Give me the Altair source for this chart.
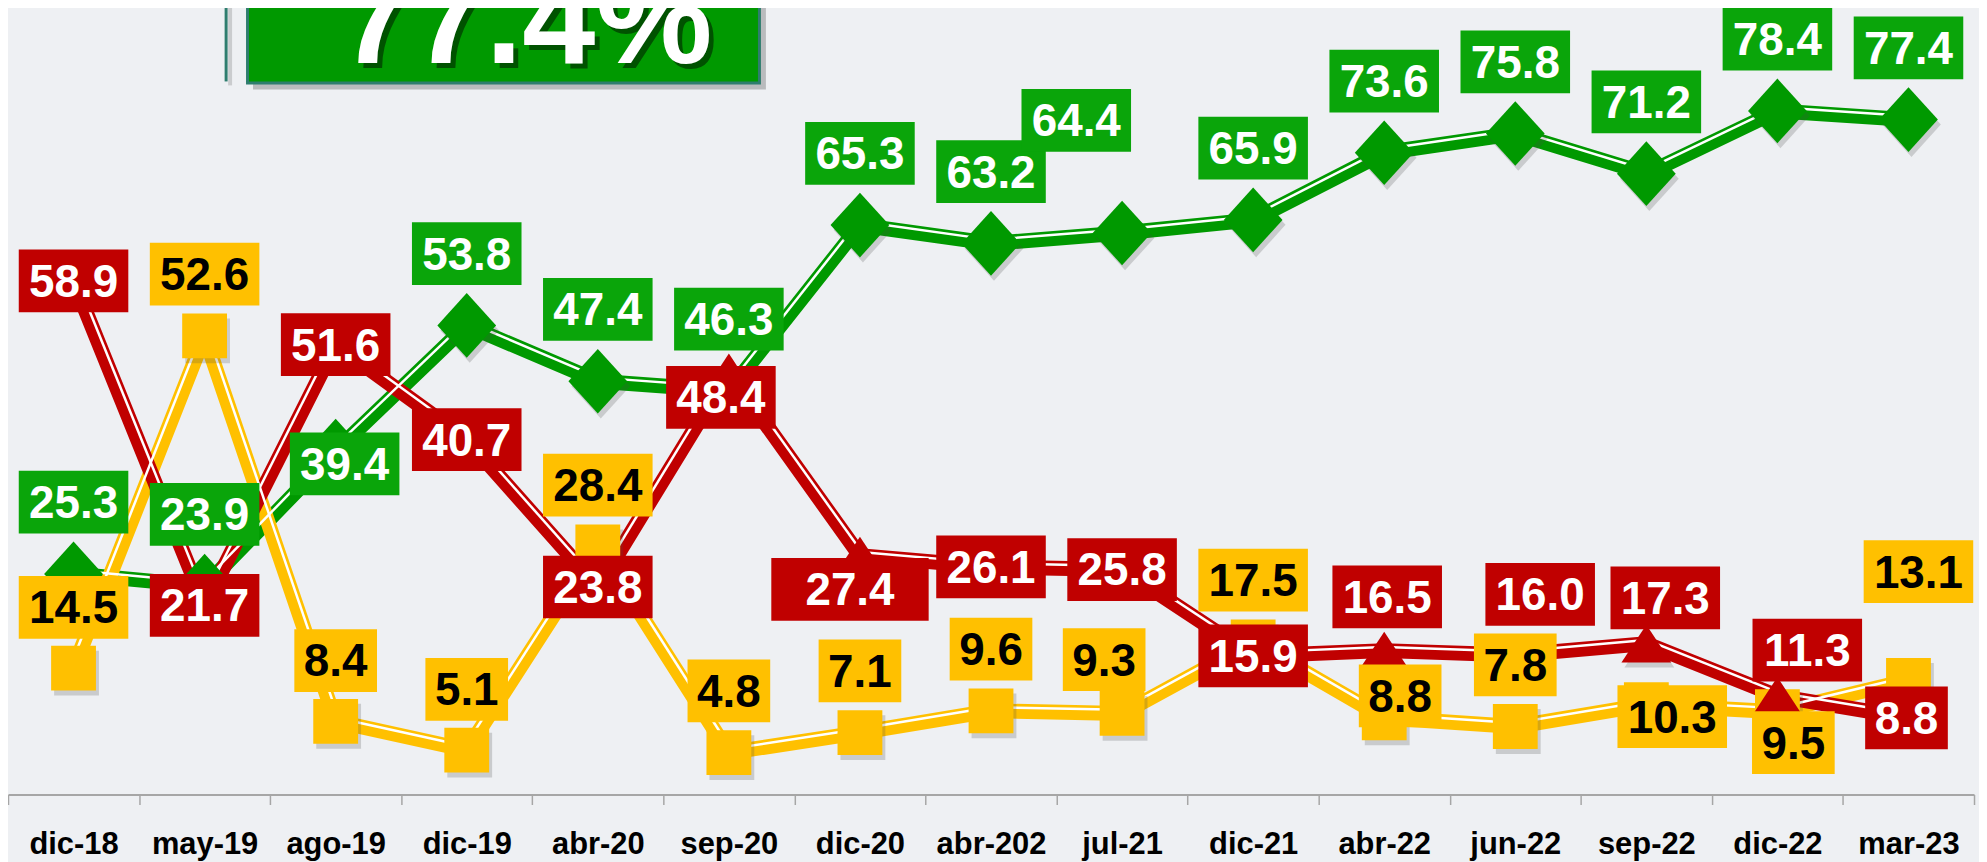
import math
import altair as alt
import pandas as pd

# ---------------- data ----------------
categories = ["dic-18", "may-19", "ago-19", "dic-19", "abr-20", "sep-20", "dic-20",
              "abr-202", "jul-21", "dic-21", "abr-22", "jun-22", "sep-22", "dic-22", "mar-23"]
green_vals = [25.3, 23.9, 39.4, 53.8, 47.4, 46.3, 65.3, 63.2, 64.4, 65.9, 73.6, 75.8, 71.2, 78.4, 77.4]
red_vals = [58.9, 21.7, 51.6, 40.7, 23.8, 48.4, 27.4, 26.1, 25.8, 15.9, 16.5, 16.0, 17.3, 11.3, 8.8]
yellow_vals = [14.5, 52.6, 8.4, 5.1, 28.4, 4.8, 7.1, 9.6, 9.3, 17.5, 8.8, 7.8, 10.3, 9.5, 13.1]
headline = "77.4%"

# ---------------- label placement (pixels, relative to the marker) ----------------
green_dx = [0, 0, 9, 0, 0, 0, 0, 0, -46, 0, 0, 0, 0, 0, 0]
green_dy = [-72, -72, 13, -72, -72, -72, -72, -72, -113, -72, -72, -72, -72, -72, -72]
red_dx = [0, 0, 0, 0, 0, -8, -10, 0, 0, 0, 3, 25, 19, 30, -2]
red_dy = [0, 0, 0, 0, 0, 25, 34, 0, 0, 0, -54, -61, -46, -46, 0]
yellow_dx = [0, 0, 0, 0, 0, 0, 0, 0, -18, 0, 16, 0, 26, 16, 10]
yellow_dy = [-61, -62, -61, -61, -62, -62, -62, -62, -54, -62, -22, -62, 12, 31, -109]
wide_boxes = {("rojo", 6): 158}

# ---------------- layout / style ----------------
N = len(categories)
W, H = 1974, 788
Y_MAX = 90
PX_X = W / N
PX_Y = H / Y_MAX
BOX_H = 63
LINE_W = 15
WHITE_W = 2.5
WHITE_OFF = 3.6
FONT = "Liberation Sans, Arial, sans-serif"

DIAMOND = "M0,-1.1L1,0L0,1.1L-1,0Z"
TRIANGLE = "M0,-0.76L1,0.76L-1,0.76Z"

series = [
    dict(name="verde", vals=green_vals, line="#009900", box="#0AA50A", txt="#FFFFFF",
         shape=DIAMOND, size=59 * 59, dx=green_dx, dy=green_dy),
    dict(name="amarillo", vals=yellow_vals, line="#FFC000", box="#FFC000", txt="#000000",
         shape="square", size=45 * 45, dx=yellow_dx, dy=yellow_dy),
    dict(name="rojo", vals=red_vals, line="#C00000", box="#C00000", txt="#FFFFFF",
         shape=TRIANGLE, size=50 * 50, dx=red_dx, dy=red_dy),
]

xs = alt.Scale(domain=[-0.5, N - 0.5], nice=False, zero=False)
ys = alt.Scale(domain=[0, Y_MAX], nice=False, zero=False)
names_js = "[" + ",".join("'%s'" % c for c in categories) + "]"
xaxis = alt.Axis(
    values=[k - 0.5 for k in range(N + 1)],
    labelExpr=names_js + "[datum.value + 0.5] || ''",
    labelOffset=PX_X / 2, title=None, grid=False,
    domainColor="#a6a6a6", domainWidth=2, tickColor="#a6a6a6", tickWidth=1.5, tickSize=10,
    labelFont=FONT, labelFontWeight="bold", labelFontSize=31, labelColor="#000000",
    labelPadding=25, labelFlush=False, labelOverlap=False, labelAngle=0, labelAlign="center",
)


def X(field):
    return alt.X(field, type="quantitative", scale=xs, axis=xaxis)


def Y(field):
    return alt.Y(field, type="quantitative", scale=ys, axis=None)


line_layers, white_layers, shadow_layers, marker_layers, box_layers, text_layers = [], [], [], [], [], []

for s in series:
    vals = s["vals"]
    pts = pd.DataFrame({"i": list(range(N)), "v": vals, "cat": categories})

    # segments of the thin white stripe, shifted to the upper side of each segment
    seg = []
    for k in range(N - 1):
        sx = PX_X
        sy = -(vals[k + 1] - vals[k]) * PX_Y
        L = math.hypot(sx, sy)
        nx, ny = sy / L, -sx / L  # screen normal pointing up
        di = nx * WHITE_OFF / PX_X
        dv = -ny * WHITE_OFF / PX_Y
        seg.append({"wx1": k + di, "wx2": k + 1 + di,
                    "wy1": vals[k] + dv, "wy2": vals[k + 1] + dv})
    segdf = pd.DataFrame(seg)

    labs = []
    for k in range(N):
        txt = "%.1f" % vals[k]
        w = wide_boxes.get((s["name"], k), 83 if len(txt) <= 3 else 110)
        xc = k + s["dx"][k] / PX_X
        yc = vals[k] - s["dy"][k] / PX_Y
        labs.append({"txt": txt, "bxc": xc, "byc": yc,
                     "bx1": xc - w / 2 / PX_X, "bx2": xc + w / 2 / PX_X,
                     "by1": yc - BOX_H / 2 / PX_Y, "by2": yc + BOX_H / 2 / PX_Y})
    labdf = pd.DataFrame(labs)

    line_layers.append(
        alt.Chart(pts).mark_line(color=s["line"], strokeWidth=LINE_W, strokeJoin="round")
        .encode(x=X("i"), y=Y("v"), order="i:Q")
    )
    white_layers.append(
        alt.Chart(segdf).mark_rule(color="#FFFFFF", strokeWidth=WHITE_W)
        .encode(x=X("wx1"), x2="wx2", y=Y("wy1"), y2="wy2")
    )
    shadow_layers.append(
        alt.Chart(pts).mark_point(shape=s["shape"], size=s["size"], filled=True, color="#4a4a4a",
                                  opacity=0.22, xOffset=3, yOffset=5, strokeWidth=0)
        .encode(x=X("i"), y=Y("v"))
    )
    marker_layers.append(
        alt.Chart(pts).mark_point(shape=s["shape"], size=s["size"], filled=True, color=s["line"],
                                  opacity=1, strokeWidth=0)
        .encode(x=X("i"), y=Y("v"))
    )
    box_layers.append(
        alt.Chart(labdf).mark_rect(color=s["box"])
        .encode(x=X("bx1"), x2="bx2", y=Y("by1"), y2="by2")
    )
    text_layers.append(
        alt.Chart(labdf).mark_text(font=FONT, fontWeight="bold", fontSize=46, color=s["txt"],
                                   align="center", baseline="middle", dy=2)
        .encode(x=X("bxc"), y=Y("byc"), text="txt:N")
    )

# ---------------- headline box (annotation) ----------------
tdf = pd.DataFrame({"t": [headline]})
TEAL = "#2E7D6E"
bracket_shadow = alt.Chart(tdf).mark_rule(color="#000000", opacity=0.15, strokeWidth=4).encode(
    x=alt.value(223), y=alt.value(-20), y2=alt.value(76))
bracket = alt.Chart(tdf).mark_rule(color=TEAL, strokeWidth=3).encode(
    x=alt.value(219), y=alt.value(-20), y2=alt.value(72))
title_shadow = alt.Chart(tdf).mark_rect(color="#000000", opacity=0.22).encode(
    x=alt.value(246), x2=alt.value(761), y=alt.value(-20), y2=alt.value(80))
title_box = alt.Chart(tdf).mark_rect(color="#009900", stroke=TEAL, strokeWidth=3).encode(
    x=alt.value(240.5), x2=alt.value(754.5), y=alt.value(-20), y2=alt.value(73.5))
TFONT = "Liberation Sans Narrow, Arial Narrow, Liberation Sans, sans-serif"
title_txt_shadow = alt.Chart(tdf).mark_text(font=TFONT, fontWeight="bold", fontSize=132,
                                            color="#005200", align="center", baseline="alphabetic").encode(
    x=alt.value(525), y=alt.value(58.5), text="t:N")
title_txt = alt.Chart(tdf).mark_text(font=TFONT, fontWeight="bold", fontSize=132,
                                     color="#FFFFFF", align="center", baseline="alphabetic").encode(
    x=alt.value(520), y=alt.value(53.7), text="t:N")

chart = alt.layer(
    *line_layers, *white_layers, *shadow_layers, *marker_layers, *box_layers, *text_layers,
    bracket_shadow, bracket, title_shadow, title_box, title_txt_shadow, title_txt,
).properties(
    width=W, height=H, background="#EEF0F3",
    padding={"left": 0, "top": 0, "right": 5, "bottom": 66},
    autosize=alt.AutoSizeParams(type="none"),
).configure_view(stroke=None)

chart.save("out.html", embed_options={"renderer": "svg", "actions": False})
